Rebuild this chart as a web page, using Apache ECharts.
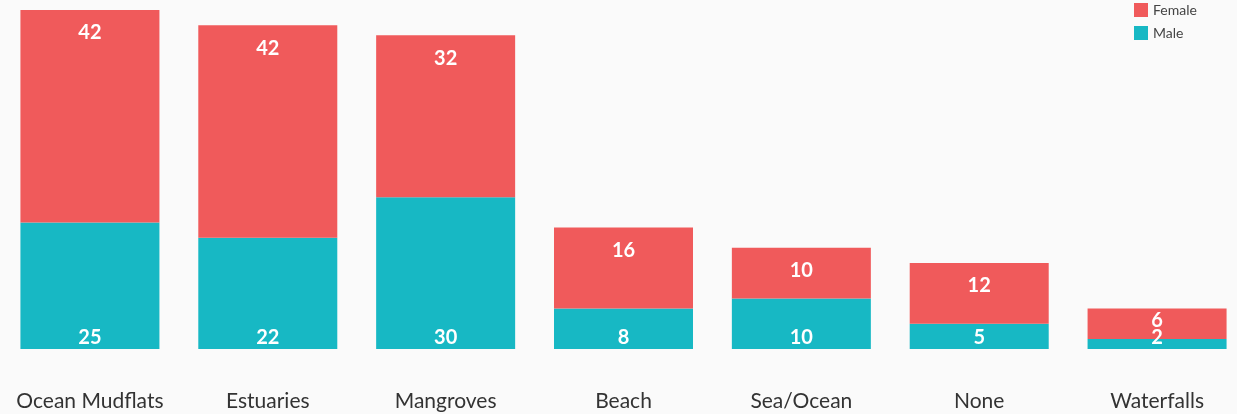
<!DOCTYPE html>
<html>
<head>
<meta charset="utf-8">
<script src="https://cdn.jsdelivr.net/npm/echarts@6/dist/echarts.min.js"></script>
<style>
  html, body { margin: 0; padding: 0; background: #fafafa; }
  #chart { width: 1237px; height: 414px; }
</style>
</head>
<body>
<div id="chart"></div>
<script>
var categories = ['Ocean Mudflats', 'Estuaries', 'Mangroves', 'Beach', 'Sea/Ocean', 'None', 'Waterfalls']
var maleData = [25, 22, 30, 8, 10, 5, 2]
var femaleData = [42, 42, 32, 16, 10, 12, 6]

var chart = echarts.init(document.getElementById('chart'))

var valueLabel = function(pos, dist) {
  return {
    show: true,
    position: pos,
    distance: dist,
    color: '#fff',
    fontFamily: 'Lato',
    fontWeight: 'bold',
    fontSize: 20
  }
}

// short bars get their label pulled up close to the top edge
var femaleItems = femaleData.map(function(v) {
  return { value: v, label: { distance: v < 8 ? 2 : 13 } }
})

chart.setOption({
  backgroundColor: '#fafafa',
  legend: {
    data: ['Female', 'Male'],
    orient: 'vertical',
    left: 1129,
    top: -2,
    itemWidth: 14,
    itemHeight: 14,
    itemGap: 9,
    icon: 'rect',
    textStyle: { fontFamily: 'Lato', fontSize: 14, color: '#444' }
  },
  grid: {
    left: 1,
    right: -9,
    top: 10,
    bottom: 65,
    containLabel: false,
    outerBoundsMode: 'none'
  },
  xAxis: {
    type: 'category',
    data: categories,
    axisLine: { show: false },
    axisTick: { show: false },
    axisLabel: {
      interval: 0,
      margin: 42,
      fontFamily: 'Lato',
      fontSize: 21,
      color: '#333'
    }
  },
  yAxis: {
    type: 'value',
    min: 0,
    max: 67,
    show: false
  },
  series: [
    {
      name: 'Male',
      type: 'bar',
      stack: 'total',
      barWidth: 139,
      data: maleData,
      itemStyle: { color: '#17b8c4' },
      label: valueLabel('insideBottom', 1)
    },
    {
      name: 'Female',
      type: 'bar',
      stack: 'total',
      barWidth: 139,
      data: femaleItems,
      itemStyle: { color: '#f05a5b' },
      label: valueLabel('insideTop', 13)
    }
  ]
})
</script>
</body>
</html>
